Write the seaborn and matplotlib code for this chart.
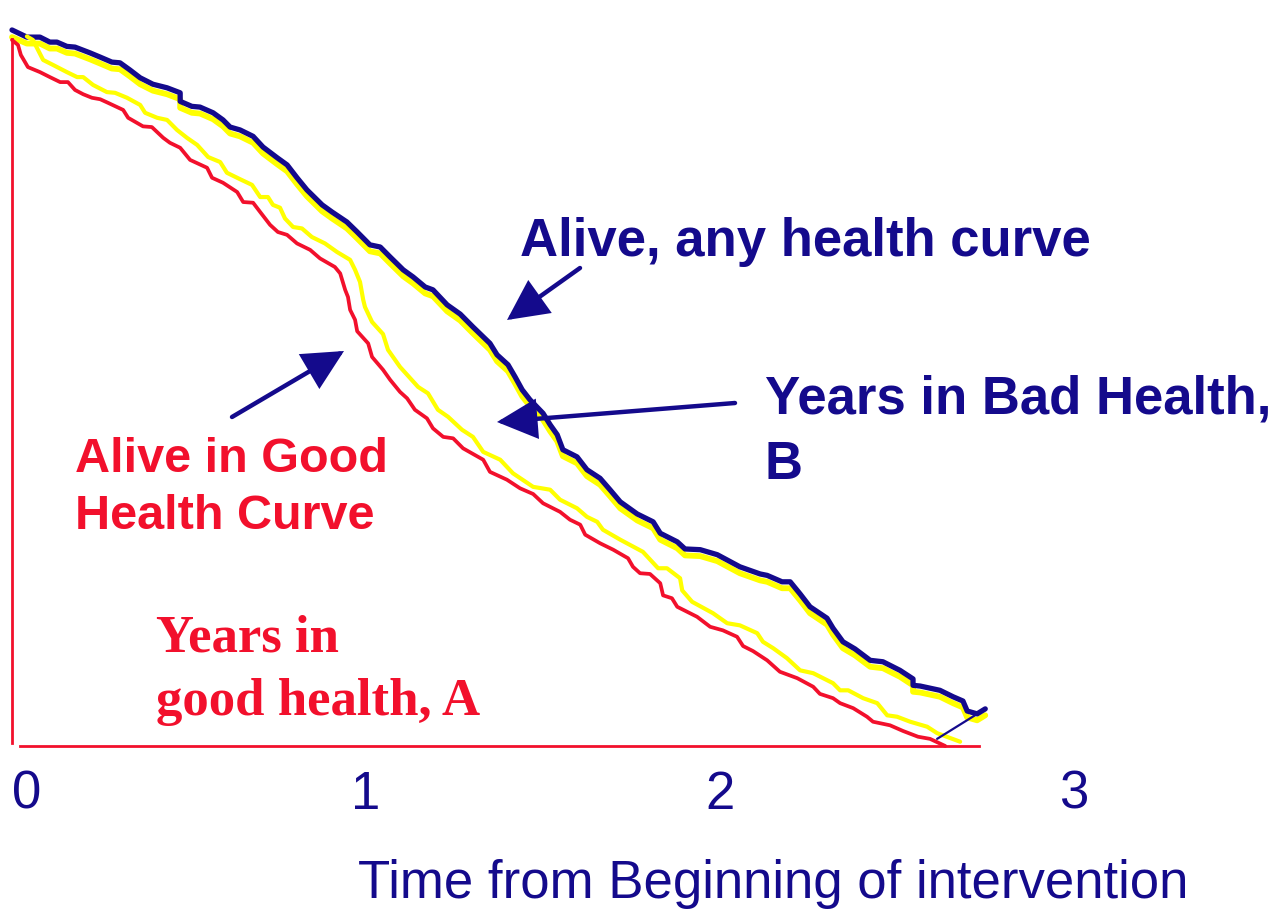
import matplotlib
matplotlib.use("Agg")
import matplotlib.pyplot as plt
import seaborn as sns

# time in years from the beginning of the intervention, proportion still alive
alive_t = [0, .042, .079, .107, .127, .155, .178, .220, .249, .282,
           .305, .333, .362, .398, .438, .475, .475, .508, .531, .568,
           .596, .616, .644, .681, .709, .749, .777, .805, .833, .876,
           .904, .946, .975, 1.011, 1.040, 1.068, 1.105, 1.133, 1.167, 1.189,
           1.229, 1.266, 1.302, 1.350, 1.370, 1.401, 1.421, 1.441, 1.463, 1.500,
           1.520, 1.540, 1.556, 1.596, 1.624, 1.661, 1.689, 1.718, 1.766, 1.811,
           1.831, 1.879, 1.901, 1.944, 1.992, 2.056, 2.113, 2.133, 2.175, 2.198,
           2.226, 2.254, 2.302, 2.319, 2.347, 2.381, 2.424, 2.460, 2.508, 2.545,
           2.545, 2.565, 2.621, 2.658, 2.686, 2.698, 2.726, 2.749]
alive_any = [1.003, .993, .993, .986, .986, .980, .979, .971, .965, .958,
             .957, .947, .936, .927, .922, .915, .903, .896, .895, .887,
             .877, .867, .863, .854, .839, .824, .814, .796, .779, .758,
             .748, .734, .720, .702, .699, .685, .667, .657, .643, .639,
             .618, .605, .587, .564, .548, .534, .517, .499, .485, .466,
             .450, .436, .415, .405, .387, .375, .359, .342, .325, .314,
             .298, .286, .276, .275, .268, .251, .241, .239, .230, .230,
             .213, .195, .179, .165, .146, .136, .120, .118, .106, .094,
             .085, .084, .078, .069, .063, .049, .045, .052]
alive_any_ci = [.993, .984, .984, .977, .977, .971, .970, .962, .956, .949,
                .948, .938, .927, .918, .913, .906, .894, .887, .886, .878,
                .868, .858, .854, .845, .830, .815, .805, .787, .770, .749,
                .739, .725, .711, .693, .690, .676, .658, .648, .634, .630,
                .609, .596, .578, .555, .539, .525, .508, .490, .476, .457,
                .441, .427, .406, .396, .378, .366, .350, .333, .316, .305,
                .289, .277, .267, .266, .259, .242, .232, .230, .221, .221,
                .204, .186, .170, .156, .137, .127, .111, .109, .097, .085,
                .076, .075, .069, .060, .054, .040, .036, .043]

good_ci_t = [.042, .059, .088, .116, .155, .184, .201, .229, .268, .291,
             .325, .362, .376, .410, .438, .466, .494, .523, .554, .588,
             .607, .644, .678, .701, .723, .737, .757, .771, .794, .819,
             .847, .884, .918, .955, .969, .983, .992, .997, 1.017, 1.048,
             1.062, 1.096, 1.147, 1.175, 1.203, 1.232, 1.271, 1.302, 1.331, 1.379,
             1.415, 1.472, 1.520, 1.548, 1.596, 1.624, 1.653, 1.669, 1.718, 1.782,
             1.825, 1.850, 1.887, 1.893, 1.921, 1.980, 2.020, 2.056, 2.105, 2.121,
             2.150, 2.189, 2.226, 2.263, 2.319, 2.339, 2.362, 2.404, 2.444, 2.472,
             2.500, 2.537, 2.585, 2.613, 2.678]
good_ci = [.994, .989, .961, .954, .944, .937, .937, .926, .916, .915,
           .908, .898, .887, .880, .877, .863, .852, .842, .825, .818,
           .803, .794, .786, .769, .769, .758, .754, .739, .727, .725,
           .713, .704, .692, .681, .667, .650, .625, .615, .594, .577,
           .555, .531, .503, .494, .471, .461, .443, .433, .412, .401,
           .382, .363, .359, .345, .333, .321, .314, .303, .289, .272,
           .249, .249, .235, .218, .202, .186, .172, .169, .158, .146,
           .137, .123, .106, .102, .088, .078, .078, .067, .060, .043,
           .041, .034, .027, .018, .006]

good_t = [0, .017, .025, .045, .079, .107, .136, .158, .178, .201,
          .226, .249, .271, .314, .328, .370, .395, .427, .446, .475,
          .503, .551, .565, .596, .636, .653, .681, .701, .729, .751,
          .777, .805, .842, .870, .912, .927, .941, .949, .955, .969,
          .975, 1.006, 1.017, 1.048, 1.068, 1.096, 1.116, 1.138, 1.172, 1.189,
          1.218, 1.246, 1.274, 1.331, 1.350, 1.398, 1.435, 1.472, 1.500, 1.548,
          1.576, 1.605, 1.619, 1.661, 1.698, 1.740, 1.754, 1.774, 1.802, 1.831,
          1.839, 1.864, 1.879, 1.935, 1.972, 2.008, 2.048, 2.065, 2.093, 2.133,
          2.169, 2.218, 2.263, 2.282, 2.319, 2.339, 2.376, 2.415, 2.432, 2.480,
          2.517, 2.559, 2.593, 2.636]
good_health = [.989, .982, .968, .951, .944, .937, .930, .930, .919, .913,
               .908, .906, .901, .891, .880, .868, .867, .852, .845, .838,
               .821, .810, .796, .789, .776, .762, .761, .748, .730, .720,
               .716, .704, .695, .683, .671, .662, .639, .629, .611, .597,
               .581, .564, .545, .527, .513, .496, .487, .471, .459, .445,
               .433, .431, .417, .401, .384, .373, .361, .353, .340, .328,
               .317, .310, .296, .284, .275, .263, .251, .242, .241, .228,
               .211, .207, .195, .181, .167, .162, .153, .140, .133, .120,
               .104, .095, .083, .073, .067, .060, .053, .041, .034, .029,
               .021, .013, .010, 0.0]

link_t = [2.613, 2.720]
link_s = [.010, .043]

tick_pos = [0, 1, 2, 3]
tick_labels = ["0", "1", "2", "3"]

navy = "#140a8c"
red = "#f2102c"
yellow = "#ffff00"

sns.set_style("white")
plt.rcParams["font.family"] = ["Liberation Sans", "DejaVu Sans"]

fig = plt.figure(figsize=(12.83, 9.10), dpi=100)
ax = fig.add_axes([12 / 1283, 164 / 910, 1271 / 1283, 746 / 910])

sns.lineplot(x=alive_t, y=alive_any_ci, sort=False, estimator=None, color=yellow,
             linewidth=4.2, clip_on=False, ax=ax)
sns.lineplot(x=alive_t, y=alive_any, sort=False, estimator=None, color=navy,
             linewidth=3.8, clip_on=False, ax=ax)
sns.lineplot(x=good_ci_t, y=good_ci, sort=False, estimator=None, color=yellow,
             linewidth=3.0, clip_on=False, ax=ax)
sns.lineplot(x=good_t, y=good_health, sort=False, estimator=None, color=red,
             linewidth=2.7, clip_on=False, ax=ax)
sns.lineplot(x=link_t, y=link_s, sort=False, estimator=None, color=navy,
             linewidth=1.6, clip_on=False, ax=ax)

ax.set_xlim(0, 3.59)
ax.set_ylim(0, 1.045)
for side in ["top", "right"]:
    ax.spines[side].set_visible(False)
for side in ["left", "bottom"]:
    ax.spines[side].set_color(red)
    ax.spines[side].set_linewidth(2)
ax.spines["left"].set_bounds(0.004, 0.99)
ax.spines["bottom"].set_bounds(0.023, 2.73)
ax.set_yticks([])
ax.set_xticks(tick_pos)
ax.set_xticklabels(tick_labels, fontsize=38, color=navy)
ax.get_xticklabels()[0].set_ha("left")
ax.tick_params(axis="x", length=0, pad=17)
ax.set_xlabel("Time from Beginning of intervention", fontsize=38, color=navy,
              ha="left", va="baseline")
ax.xaxis.set_label_coords((358 - 12) / 1271, (746 - 898) / 746)


def label(txt, px, py, color, size, family=None):
    kw = {}
    if family:
        kw["family"] = family
    ax.annotate(txt, xy=(px, 910 - py), xycoords="figure pixels", ha="left",
                va="baseline", fontsize=size, fontweight="bold", color=color, **kw)


def arrow(x0, y0, x1, y1):
    ax.annotate("", xy=(x1, 910 - y1), xytext=(x0, 910 - y0),
                xycoords="figure pixels", textcoords="figure pixels",
                arrowprops=dict(arrowstyle="-|>,head_length=1.0,head_width=0.5",
                                color=navy, lw=3.2, mutation_scale=24,
                                joinstyle="miter", shrinkA=0, shrinkB=0))


label("Alive, any health curve", 520, 256, navy, 38)
label("Years in Bad Health,", 765, 414, navy, 38)
label("B", 765, 479, navy, 38)
label("Alive in Good", 75, 472, red, 35)
label("Health Curve", 75, 529, red, 35)
label("Years in", 156, 652, red, 38, ["Liberation Serif", "DejaVu Serif"])
label("good health, A", 156, 715, red, 38, ["Liberation Serif", "DejaVu Serif"])

arrow(580, 268, 507, 320)
arrow(735, 403, 497, 422)
arrow(232, 417, 344, 351)

fig.savefig("out.png", dpi=100)
